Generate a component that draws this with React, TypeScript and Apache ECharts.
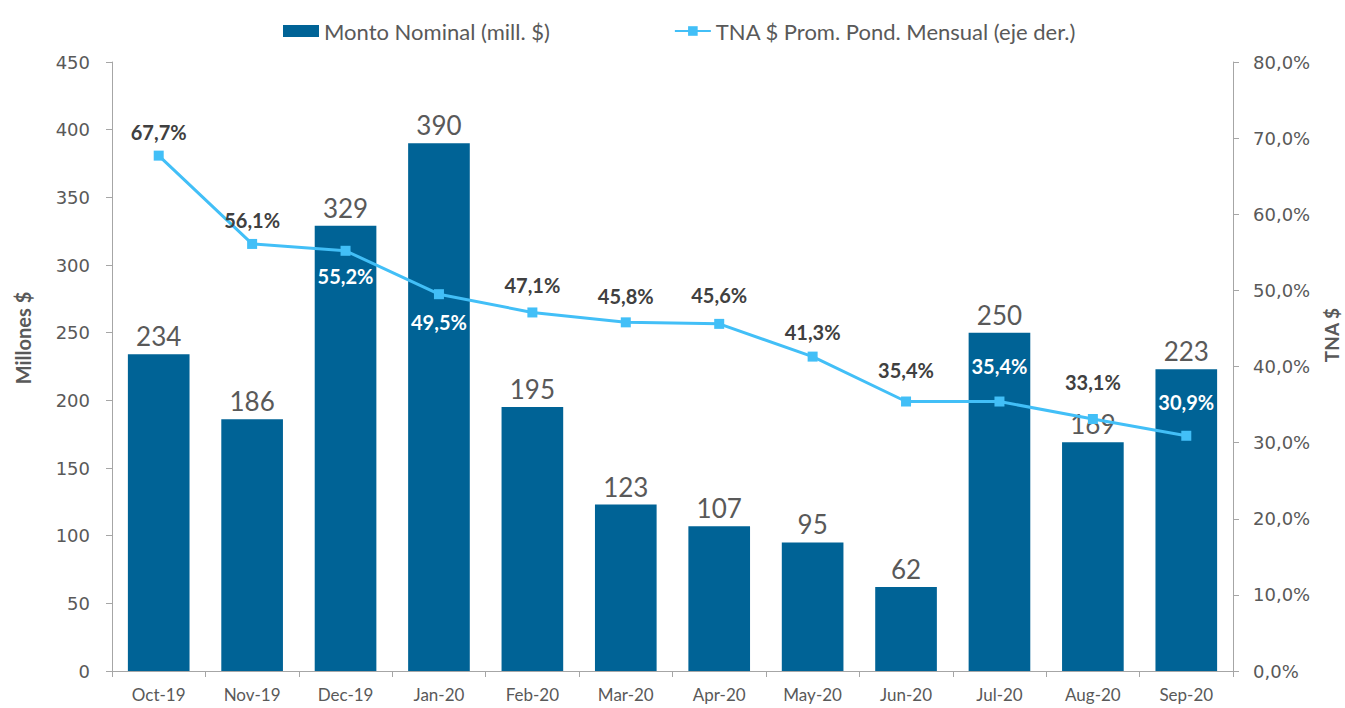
import React, { useEffect, useRef } from "react";
import * as echarts from "echarts";

const categories = ["Oct-19", "Nov-19", "Dec-19", "Jan-20", "Feb-20", "Mar-20", "Apr-20", "May-20", "Jun-20", "Jul-20", "Aug-20", "Sep-20"];
const montoNominal = [234, 186, 329, 390, 195, 123, 107, 95, 62, 250, 169, 223];
const tnaPromedio = [67.7, 56.1, 55.2, 49.5, 47.1, 45.8, 45.6, 41.3, 35.4, 35.4, 33.1, 30.9];
const leftTicks = { min: 0, max: 450, interval: 50 };
const rightTicks = { min: 0, max: 80, interval: 10 };

const BAR_NAME = "Monto Nominal (mill. $)";
const LINE_NAME = "TNA $ Prom. Pond. Mensual (eje der.)";
const LEFT_AXIS_NAME = "Millones $";
const RIGHT_AXIS_NAME = "TNA $";
const FONT = "Lato, 'Open Sans', sans-serif";
const AXIS_FONT = "'DejaVu Sans', Verdana, sans-serif";
const GRAY = "#595959";

// label styling (centre offset from point, px; negative = below)
const labelLift = [19, 19, -20, -23, 22, 21, 24, 20, 27, 31, 32, 29];
const whiteIdx = [2, 3, 9, 11];

const fmtPct = (v: number, d = 1) => v.toFixed(d).replace(".", ",") + "%";

export default function App() {
  const ref = useRef<HTMLDivElement>(null);
  useEffect(() => {
    if (!ref.current) return;
    const chart = echarts.init(ref.current, undefined, { renderer: "svg" });
    const lineData = tnaPromedio.map((v, i) => {
      const lift = labelLift[i];
      return {
        value: v,
        label: {
          position: lift < 0 ? "bottom" : "top",
          color: whiteIdx.includes(i) ? "#ffffff" : "#404040",
          distance: Math.max(0, Math.abs(lift) - 10),
        },
      };
    });
    chart.setOption({
      animation: false,
      backgroundColor: "#ffffff",
      textStyle: { fontFamily: FONT },
      legend: {
        top: 15,
        left: 278,
        itemGap: 124,
        itemWidth: 36,
        itemHeight: 12,
        textStyle: { fontSize: 22, color: GRAY, fontFamily: FONT },
        data: [
          { name: BAR_NAME, icon: "rect" },
          { name: LINE_NAME },
        ],
      },
      grid: { left: 112, right: 112, top: 62, bottom: 37, containLabel: false },
      graphic: [
        {
          type: "text",
          x: 23,
          y: 338,
          rotation: Math.PI / 2,
          style: { text: LEFT_AXIS_NAME, fontSize: 20, fontWeight: "bold", fill: GRAY, fontFamily: FONT, align: "center", verticalAlign: "middle" },
        },
        {
          type: "text",
          x: 1331,
          y: 335,
          rotation: Math.PI / 2,
          style: { text: RIGHT_AXIS_NAME, fontSize: 19, fontWeight: "bold", fill: GRAY, fontFamily: FONT, align: "center", verticalAlign: "middle" },
        },
      ],
      xAxis: {
        type: "category",
        data: categories,
        boundaryGap: true,
        axisLine: { lineStyle: { color: "#A6A6A6", width: 1 } },
        axisTick: { show: true, length: 6, lineStyle: { color: "#A6A6A6" } },
        axisLabel: { color: GRAY, fontSize: 17, margin: 15, fontFamily: FONT },
      },
      yAxis: [
        {
          type: "value",
          min: leftTicks.min,
          max: leftTicks.max,
          interval: leftTicks.interval,
          axisLine: { show: true, lineStyle: { color: "#A6A6A6" } },
          axisTick: { show: true, length: 6, lineStyle: { color: "#A6A6A6" } },
          axisLabel: { color: GRAY, fontSize: 18, margin: 22, fontFamily: AXIS_FONT },
          splitLine: { show: false },
        },
        {
          type: "value",
          min: rightTicks.min,
          max: rightTicks.max,
          interval: rightTicks.interval,
          axisLine: { show: true, lineStyle: { color: "#A6A6A6" } },
          axisTick: { show: true, length: 6, lineStyle: { color: "#A6A6A6" } },
          axisLabel: { color: GRAY, fontSize: 18, margin: 20, fontFamily: AXIS_FONT, formatter: (v: number) => fmtPct(v) },
          splitLine: { show: false },
        },
      ],
      series: [
        {
          name: BAR_NAME,
          type: "bar",
          data: montoNominal,
          barWidth: "66%",
          itemStyle: { color: "#006396" },
          label: { show: true, position: "top", distance: 5, color: GRAY, fontSize: 26, fontFamily: FONT },
          z: 2,
        },
        {
          name: LINE_NAME,
          type: "line",
          yAxisIndex: 1,
          data: lineData,
          symbol: "rect",
          symbolSize: 10,
          lineStyle: { color: "#42BFF7", width: 3 },
          itemStyle: { color: "#42BFF7" },
          label: {
            show: true,
            fontSize: 20,
            fontWeight: "bold",
            fontFamily: FONT,
            formatter: (p: any) => fmtPct(p.value),
          },
          z: 3,
        },
      ],
    });
    return () => chart.dispose();
  }, []);
  return <div ref={ref} style={{ width: 1345, height: 708, position: "absolute", left: 0, top: 0 }} />;
}
